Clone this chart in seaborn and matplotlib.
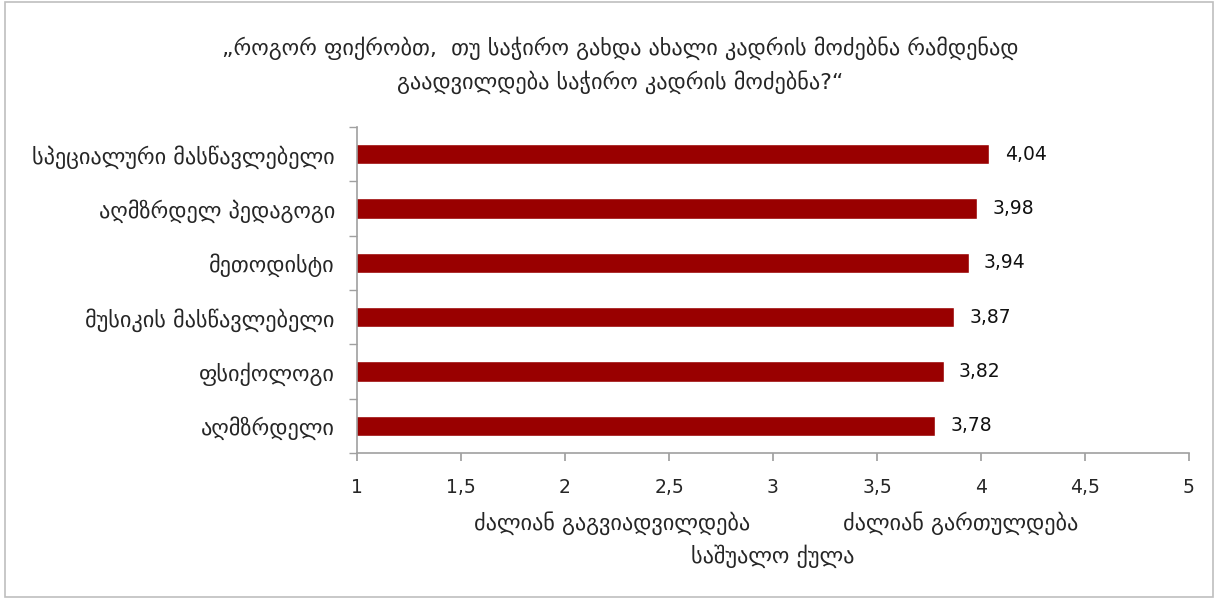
import matplotlib
matplotlib.use("Agg")
import matplotlib.pyplot as plt
import seaborn as sns
import pandas as pd

categories = ["სპეციალური მასწავლებელი", "აღმზრდელ პედაგოგი", "მეთოდისტი",
              "მუსიკის მასწავლებელი", "ფსიქოლოგი", "აღმზრდელი"]
values = [4.04, 3.98, 3.94, 3.87, 3.82, 3.78]
value_labels = ["4,04", "3,98", "3,94", "3,87", "3,82", "3,78"]
xticks = [1, 1.5, 2, 2.5, 3, 3.5, 4, 4.5, 5]
xtick_labels = ["1", "1,5", "2", "2,5", "3", "3,5", "4", "4,5", "5"]
title = "„როგორ ფიქრობთ,  თუ საჭირო გახდა ახალი კადრის მოძებნა რამდენად\nგაადვილდება საჭირო კადრის მოძებნა?“"
xlabel_left = "ძალიან გაგვიადვილდება"
xlabel_right = "ძალიან გართულდება"
xlabel = "საშუალო ქულა"

sns.set_theme(style="white")
plt.rcParams['font.family'] = ['DejaVu Sans']

df = pd.DataFrame({"cat": categories, "val": values})

fig = plt.figure(figsize=(12.18, 5.99), dpi=100)
ax = fig.add_axes([357/1218, 1 - 453/599, (1189-357)/1218, (453-127)/599])

sns.barplot(data=df, x="val", y="cat", orient="h", color="#990000",
            width=0.38, ax=ax, saturation=1)
ax.set_xlim(1, 5)
ax.set_ylim(5.5, -0.5)

for p, lab in zip(ax.patches, value_labels):
    ax.annotate(lab, (p.get_width(), p.get_y() + p.get_height() / 2),
                xytext=(11, 0), textcoords="offset points", va="center", ha="left",
                fontsize=13.5, color="#111111")

ax.set_xticks(xticks)
ax.set_xticklabels(xtick_labels, fontsize=13.5)
ax.set_yticks(range(len(categories)))
ax.set_yticklabels(categories, fontsize=16)
ax.set_ylabel("")
ax.set_xlabel(xlabel, fontsize=16, labelpad=34)

for s in ["top", "right"]:
    ax.spines[s].set_visible(False)
for s in ["left", "bottom"]:
    ax.spines[s].set_color("#a0a0a0")
    ax.spines[s].set_linewidth(1.2)

ax.tick_params(axis="x", which="major", bottom=True, length=6, color="#a0a0a0", pad=12)
ax.tick_params(axis="y", which="major", left=False, pad=10)
ax.set_yticks([i + 0.5 for i in range(-1, len(categories))], minor=True)
ax.tick_params(axis="y", which="minor", left=True, length=6, color="#a0a0a0")

ax.text(0.306, -0.215, xlabel_left, transform=ax.transAxes, ha="center", va="center", fontsize=16)
ax.text(0.725, -0.215, xlabel_right, transform=ax.transAxes, ha="center", va="center", fontsize=16)

fig.text(620/1218, 1 - 65/599, title, ha="center", va="center", fontsize=16, linespacing=1.55)

fig.patches.append(plt.Rectangle((0.004, 0.003), 0.992, 0.994, transform=fig.transFigure,
                                 fill=False, edgecolor="#bfbfbf", linewidth=1.2))

fig.savefig("out.png", dpi=100)
